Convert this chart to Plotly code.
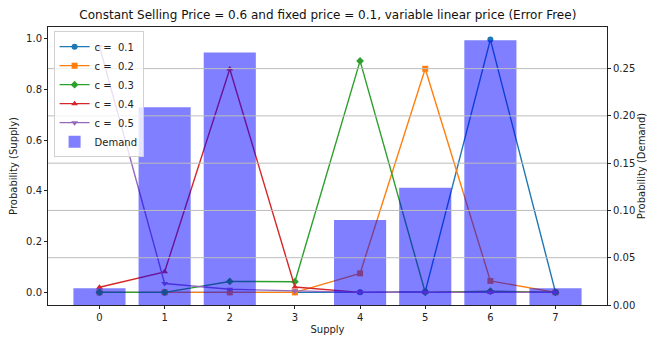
import plotly.graph_objects as go

# Supply levels and demand distribution
supply = [0, 1, 2, 3, 4, 5, 6, 7]
demand = [0.0176, 0.209, 0.267, 0.0, 0.0898, 0.124, 0.280, 0.0176]

# Supply probability for each variable cost c
c_values = [0.1, 0.2, 0.3, 0.4, 0.5]
p_c01 = [0.0, 0.0, 0.0, 0.0, 0.0, 0.003, 0.997, 0.0]
p_c02 = [0.0, 0.0, 0.0, 0.0, 0.075, 0.882, 0.045, 0.0]
p_c03 = [0.0, 0.0, 0.043, 0.042, 0.913, 0.0, 0.005, 0.0]
p_c04 = [0.02, 0.081, 0.881, 0.021, 0.0, 0.0, 0.0, 0.0]
p_c05 = [0.97, 0.035, 0.012, 0.005, 0.0, 0.0, 0.0, 0.0]
supply_probs = [p_c01, p_c02, p_c03, p_c04, p_c05]

colors = ["#1f77b4", "#ff7f0e", "#2ca02c", "#d62728", "#9467bd"]
symbols = ["circle", "square", "diamond", "triangle-up", "triangle-down"]

demand_ticks = [0.0, 0.05, 0.10, 0.15, 0.20, 0.25]
supply_ticks = [0.0, 0.2, 0.4, 0.6, 0.8, 1.0]

FONT = "DejaVu Sans"
fig = go.Figure()

for c, probs, col, sym in zip(c_values, supply_probs, colors, symbols):
    fig.add_trace(go.Scatter(
        x=supply, y=probs, mode="lines+markers",
        name=f"c =  {c}",
        line=dict(color=col, width=1.4),
        marker=dict(symbol=sym, size=6, color=col),
        xaxis="x", yaxis="y",
    ))

fig.add_trace(go.Bar(
    x=supply, y=demand, name="Demand", width=0.8,
    marker=dict(color="rgba(0,0,255,0.5)", line=dict(width=0)),
    xaxis="x", yaxis="y2",
))

# horizontal grid of the demand axis, drawn over the bars
for t in demand_ticks[1:]:
    fig.add_shape(type="line", xref="paper", x0=0, x1=1, yref="y2", y0=t, y1=t,
                  line=dict(color="#bdbdbd", width=1), layer="above")

axis_common = dict(showline=True, linecolor="#222", linewidth=1, ticks="outside",
                   ticklen=3, tickcolor="#222", zeroline=False, showgrid=False,
                   automargin=False,
                   tickfont=dict(family=FONT, size=10, color="#222"))

fig.update_layout(
    width=647, height=337,
    margin=dict(l=48, r=40, t=27, b=32),
    paper_bgcolor="white", plot_bgcolor="white",
    font=dict(family=FONT, size=10, color="#222"),
    title=dict(text="Constant Selling Price = 0.6 and fixed price = 0.1, variable linear price (Error Free)",
               font=dict(family=FONT, size=12, color="#111"),
               x=0.5067, xanchor="center", yref="container", y=1 - 14.5 / 337, yanchor="middle"),
    xaxis=dict(range=[-0.79, 7.79], tickvals=supply, mirror=True,
               title=dict(text="Supply", font=dict(family=FONT, size=10), standoff=3),
               **axis_common),
    yaxis=dict(range=[-0.0499, 1.0468], tickvals=supply_ticks, tickformat=".1f",
               title=dict(text="Probability (Supply)", font=dict(family=FONT, size=10), standoff=6),
               **axis_common),
    yaxis2=dict(range=[0, 0.294], tickvals=demand_ticks, tickformat=".2f",
                overlaying="y", side="right",
                title=dict(text="Probability (Demand)", font=dict(family=FONT, size=10), standoff=3),
                **axis_common),
    legend=dict(x=0.01, y=0.985, xanchor="left", yanchor="top",
                bgcolor="rgba(255,255,255,0.8)", bordercolor="#d0d0d0", borderwidth=1,
                font=dict(family=FONT, size=10, color="#222"),
                itemwidth=30, tracegroupgap=0),
    bargap=0.2,
    showlegend=True,
)

fig.write_html("out.html")
